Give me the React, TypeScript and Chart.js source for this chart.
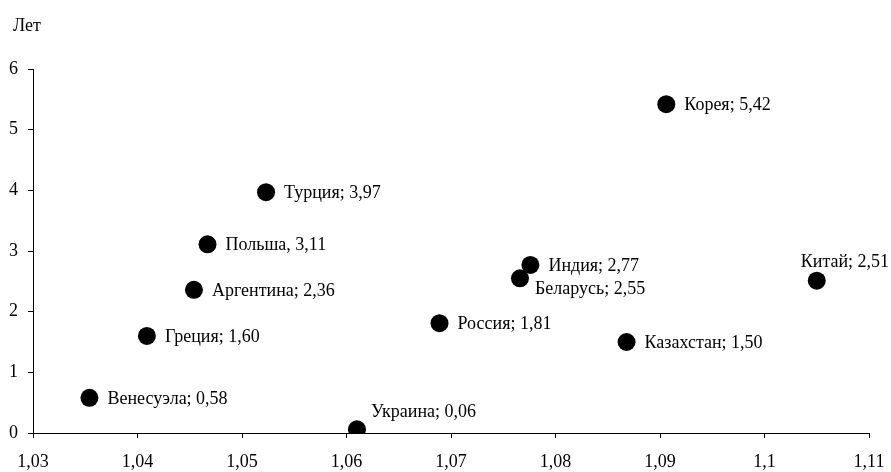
import React, { useEffect, useRef } from "react";
import { Chart, registerables } from "chart.js";

Chart.register(...registerables);

const countries = ["Венесуэла", "Греция", "Аргентина", "Польша", "Турция", "Украина", "Россия", "Беларусь", "Индия", "Казахстан", "Корея", "Китай"];
const separators = [";", ";", ";", ",", ";", ";", ";", ";", ";", ";", ";", ";"];
const xValues = [1.0354, 1.0409, 1.0454, 1.0467, 1.0523, 1.061, 1.0689, 1.0766, 1.0776, 1.0868, 1.0906, 1.105];
const yValues = [0.58, 1.6, 2.36, 3.11, 3.97, 0.06, 1.81, 2.55, 2.77, 1.5, 5.42, 2.51];
const yLabels = ["0,58", "1,60", "2,36", "3,11", "3,97", "0,06", "1,81", "2,55", "2,77", "1,50", "5,42", "2,51"];
const axisTitle = "Лет";

const FONT = '"Liberation Serif", "Times New Roman", serif';

const placement: Record<string, string> = {
  "Украина": "aboveRight",
  "Беларусь": "belowRight",
  "Китай": "above",
};

const labelPlugin = {
  id: "pointLabels",
  afterDatasetsDraw(chart: any) {
    const ctx = chart.ctx;
    const meta = chart.getDatasetMeta(0);
    ctx.save();
    ctx.font = `18px ${FONT}`;
    ctx.fillStyle = "#000";
    ctx.textBaseline = "middle";
    ctx.textAlign = "left";
    meta.data.forEach((pt: any, i: number) => {
      const text = `${countries[i]}${separators[i]} ${yLabels[i]}`;
      const p = placement[countries[i]] || "right";
      let x = pt.x, y = pt.y;
      if (p === "right") { x += 18; y += 1; }
      else if (p === "aboveRight") { x += 14; y -= 17; }
      else if (p === "belowRight") { x += 15; y += 11; }
      else if (p === "above") { x -= 16; y -= 18; }
      ctx.fillText(text, x, y);
    });
    ctx.fillText(axisTitle, 13, 26);
    ctx.restore();
  },
};

const fmt = (v: number, digits: number) => {
  const r = Math.round(v * Math.pow(10, digits)) / Math.pow(10, digits);
  return String(r).replace(".", ",");
};

export default function App() {
  const ref = useRef<HTMLCanvasElement>(null);
  useEffect(() => {
    document.body.style.margin = "0";
    const chart = new Chart(ref.current!, {
      type: "scatter",
      data: {
        datasets: [
          {
            data: xValues.map((x, i) => ({ x, y: yValues[i] })),
            backgroundColor: "#000",
            borderWidth: 0,
            pointRadius: 9,
            pointHoverRadius: 9,
          },
        ],
      },
      options: {
        responsive: false,
        animation: false,
        layout: { padding: { top: 69, right: 22, left: 0, bottom: 0 } },
        plugins: { legend: { display: false }, tooltip: { enabled: false } },
        scales: {
          x: {
            type: "linear",
            min: 1.03,
            max: 1.11,
            ticks: {
              stepSize: 0.01,
              color: "#000",
              font: { family: FONT, size: 18 },
              padding: 13,
              maxRotation: 0,
              autoSkip: false,
              callback: (v: any) => fmt(Number(v), 2),
            },
            grid: { drawOnChartArea: false, drawTicks: true, tickLength: 5, color: "#000" },
            border: { display: true, color: "#000", width: 1 },
            afterFit: (s: any) => { s.height = 39; s.paddingLeft = 0; s.paddingRight = 0; },
          },
          y: {
            min: 0,
            max: 6,
            ticks: {
              stepSize: 1,
              color: "#000",
              font: { family: FONT, size: 18 },
              padding: 10,
              callback: (v: any) => fmt(Number(v), 0),
            },
            grid: { drawOnChartArea: false, drawTicks: true, tickLength: 5, color: "#000" },
            border: { display: true, color: "#000", width: 1 },
            afterFit: (s: any) => { s.width = 33; s.paddingTop = 0; s.paddingBottom = 0; },
          },
        },
      },
      plugins: [labelPlugin],
    });
    return () => chart.destroy();
  }, []);
  return (
    <div style={{ width: 891, height: 472, background: "#fff" }}>
      <canvas ref={ref} width={891} height={472} />
    </div>
  );
}
